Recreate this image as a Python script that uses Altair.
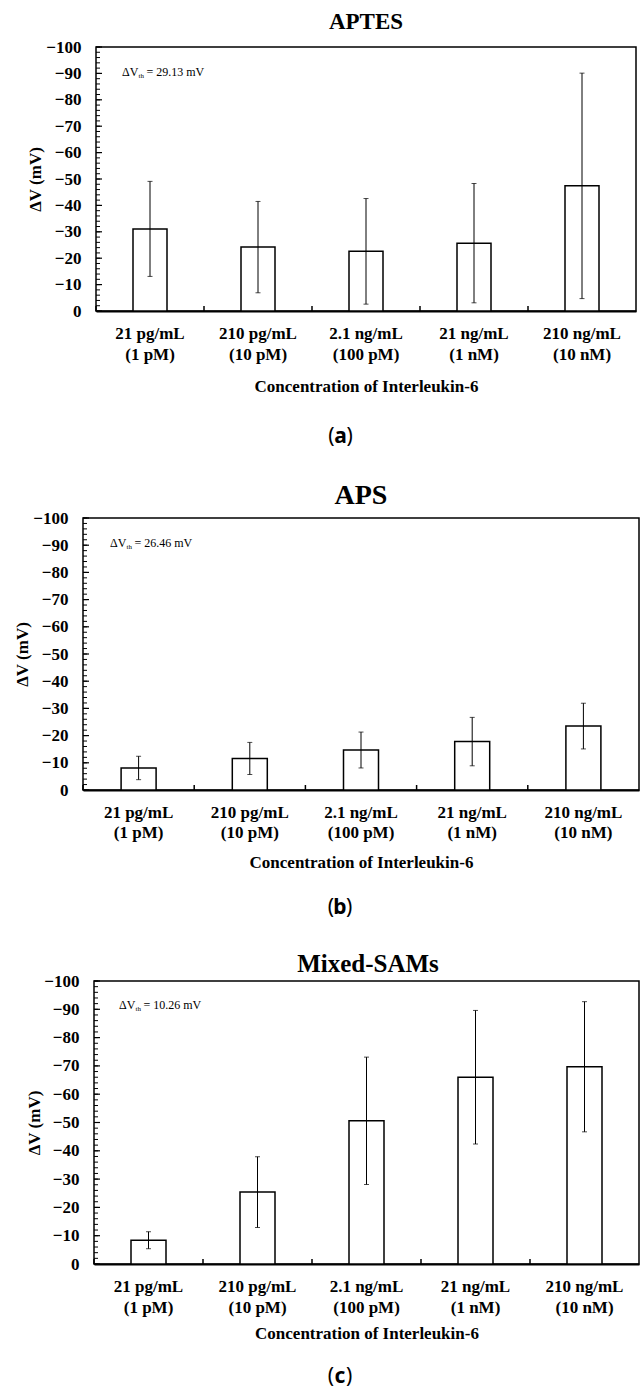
import altair as alt
import pandas as pd

# ---------------- data ----------------
mass = ["21 pg/mL", "210 pg/mL", "2.1 ng/mL", "21 ng/mL", "210 ng/mL"]
molar = ["(1 pM)", "(10 pM)", "(100 pM)", "(1 nM)", "(10 nM)"]

aptes_mean = [-31.1, -24.2, -22.6, -25.7, -47.4]
aptes_err = [18.0, 17.3, 20.0, 22.6, 42.7]
aps_mean = [-8.1, -11.6, -14.7, -17.8, -23.5]
aps_err = [4.3, 5.9, 6.6, 8.9, 8.4]
mixed_mean = [-8.4, -25.4, -50.6, -66.0, -69.7]
mixed_err = [3.0, 12.5, 22.5, 23.6, 23.0]

titles = ["APTES", "APS", "Mixed-SAMs"]
thresholds = ["29.13", "26.46", "10.26"]
captions = ["a", "b", "c"]

y_major = [-100, -90, -80, -70, -60, -50, -40, -30, -20, -10, 0]
y_minor = list(range(-100, 1, 2))

cats = [f"{m}|{n}" for m, n in zip(mass, molar)]

SERIF = "Liberation Serif"
CAP_FONT = "Noto Sans"
PAGE_CAP_X = 342
PAGE_MARGIN = 8  # default left body margin of the page


def panel(mean, err, title, thr, cap, g):
    df = pd.DataFrame({"cat": cats, "mean": mean, "err": err})
    df["low"] = df["mean"] + df["err"]
    df["high"] = df["mean"] - df["err"]
    W, H = g["W"], g["H"]

    yscale = alt.Scale(domain=[-100, 0], reverse=True, nice=False)
    yaxis = alt.Axis(
        values=y_major, title="ΔV (mV)", ticks=False, domain=False, grid=False,
        labelPadding=15, titleX=g["ytx"], titleY=H / 2, titleAngle=270,
        titleAlign="center", titleBaseline="middle",
    )
    xaxis = alt.Axis(
        title="Concentration of Interleukin-6", labelExpr="split(datum.label, '|')",
        labelAngle=0, ticks=False, domain=True, domainWidth=2, domainColor="black",
        grid=False, labelPadding=g["lp"], labelLineHeight=g["lh"],
        titleY=g["xty"], titleBaseline="middle",
    )
    xs = alt.Scale(paddingInner=0, paddingOuter=0)
    X = alt.X("cat:N", sort=cats, scale=xs, axis=xaxis)

    base = alt.Chart(df)
    bars = base.mark_bar(size=g["bw"], fill="white", stroke="black", strokeWidth=1.5).encode(
        x=X, y=alt.Y("mean:Q", scale=yscale, axis=yaxis)
    )
    err_rule = base.mark_rule(color="black", strokeWidth=1).encode(
        x=X, y=alt.Y("low:Q", scale=yscale, axis=yaxis), y2="high:Q"
    )
    cap_lo = base.mark_tick(size=5, thickness=1, color="black").encode(
        x=X, y=alt.Y("low:Q", scale=yscale, axis=yaxis)
    )
    cap_hi = base.mark_tick(size=5, thickness=1, color="black").encode(
        x=X, y=alt.Y("high:Q", scale=yscale, axis=yaxis)
    )
    sep = base.mark_rule(color="black", strokeWidth=1.5).encode(
        x=alt.X("cat:N", sort=cats, scale=xs, axis=xaxis, bandPosition=0),
        y=alt.value(H), y2=alt.value(H - 5),
    )
    minor = alt.Chart(pd.DataFrame({"v": y_minor})).mark_rule(color="black", strokeWidth=1).encode(
        y=alt.Y("v:Q", scale=yscale, axis=yaxis), x=alt.value(0), x2=alt.value(4)
    )
    major = alt.Chart(pd.DataFrame({"v": y_major})).mark_rule(color="black", strokeWidth=1.2).encode(
        y=alt.Y("v:Q", scale=yscale, axis=yaxis), x=alt.value(0), x2=alt.value(6)
    )

    one = alt.Chart(pd.DataFrame({"k": [0]}))
    ttl = one.mark_text(text=title, font=SERIF, fontSize=g["tfs"], fontWeight="bold",
                        align="center", baseline="alphabetic", color="black").encode(
        x=alt.value(g["tcx"]), y=alt.value(-g["toff"]))
    ax, ay = g["ann"]
    ann1 = one.mark_text(text="ΔV", font=SERIF, fontSize=12, align="left", baseline="middle", color="black").encode(
        x=alt.value(ax), y=alt.value(ay))
    ann2 = one.mark_text(text="th", font=SERIF, fontSize=7, align="left", baseline="middle", color="black").encode(
        x=alt.value(ax + 16.5), y=alt.value(ay + 3.5))
    ann3 = one.mark_text(text=f"= {thr} mV", font=SERIF, fontSize=12, align="left", baseline="middle", color="black").encode(
        x=alt.value(ax + 24.5), y=alt.value(ay))

    cx = PAGE_CAP_X - g["left"]
    cy = H + g["cap"]
    c1 = one.mark_text(text="(", font=CAP_FONT, fontSize=21, align="right", baseline="middle", color="black").encode(
        x=alt.value(cx - 6), y=alt.value(cy))
    c2 = one.mark_text(text=cap, font=CAP_FONT, fontSize=21, fontWeight="bold", align="center", baseline="middle", color="black").encode(
        x=alt.value(cx), y=alt.value(cy))
    c3 = one.mark_text(text=")", font=CAP_FONT, fontSize=21, align="left", baseline="middle", color="black").encode(
        x=alt.value(cx + 6), y=alt.value(cy))

    # invisible extent marker that fixes each panel's place on the page
    bound = one.mark_rule(opacity=0).encode(
        x=alt.value(-(g["left"] - PAGE_MARGIN - 1)), y=alt.value(-g["top"]), y2=alt.value(g["bot"])
    )

    p = alt.layer(bars, err_rule, cap_lo, cap_hi, sep, minor, major, ttl,
                  ann1, ann2, ann3, c1, c2, c3, bound).properties(width=W, height=H)
    spacer = one.mark_point(opacity=0).encode(x=alt.value(0), y=alt.value(0)).properties(
        width=1, height=1, view=alt.ViewConfig(strokeOpacity=0))
    return alt.hconcat(spacer, p, spacing=0)


geoms = [
    dict(left=97.5, W=540, H=264, top=46, bot=421, tfs=23, toff=18, tcx=270, bw=34,
         ytx=-61, lp=14, lh=21.5, xty=75, cap=126, ann=(26, 25)),
    dict(left=85, W=556, H=272, top=48, bot=420, tfs=28, toff=14, tcx=278, bw=35,
         ytx=-61, lp=14, lh=20, xty=72, cap=118, ann=(27, 25)),
    dict(left=96, W=545, H=283, top=41, bot=404, tfs=25, toff=9, tcx=274, bw=35,
         ytx=-60, lp=14, lh=21, xty=69, cap=113, ann=(25, 24)),
]

series = [(aptes_mean, aptes_err), (aps_mean, aps_err), (mixed_mean, mixed_err)]
panels = [panel(m, e, t, th, c, g) for (m, e), t, th, c, g in zip(series, titles, thresholds, captions, geoms)]

chart = alt.vconcat(*panels, spacing=0).properties(
    padding={"left": 0, "top": 0, "right": 0, "bottom": 0}, background="white"
).configure_view(
    stroke="black", strokeWidth=1.5
).configure_axis(
    labelFont=SERIF, labelFontSize=17, labelFontWeight="bold", labelColor="black",
    titleFont=SERIF, titleFontSize=17, titleFontWeight="bold", titleColor="black",
)

chart.save("out.html", embed_options={"renderer": "svg", "actions": False})
